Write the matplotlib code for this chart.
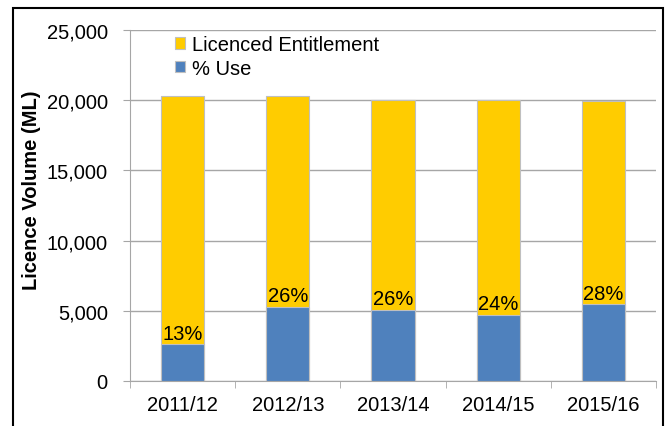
import numpy as np
import matplotlib
matplotlib.use('Agg')
from matplotlib import pyplot as plt
from matplotlib.patches import Rectangle

# data
years = ['2011/12', '2012/13', '2013/14', '2014/15', '2015/16']
entitlement = [20300, 20300, 20000, 20000, 19930]
use = [2600, 5300, 5070, 4700, 5480]
pct = ['13%', '26%', '26%', '24%', '28%']

plt.rcParams['font.family'] = ['Liberation Sans', 'DejaVu Sans']
fs = 14.5
yellow = '#FFCC00'
blue = '#4F81BD'
grid = '#A6A6A6'

fig = plt.figure(figsize=(6.69, 4.27), dpi=100)
ax = fig.add_axes([130/669, 1-382/427, 526/669, 351/427])

x = np.arange(len(years))
ax.bar(x, entitlement, width=0.41, color=yellow, edgecolor='#BFBFBF', linewidth=0.8,
       label='Licenced Entitlement', zorder=2)
ax.bar(x, use, width=0.41, color=blue, edgecolor='#BFBFBF', linewidth=0.8,
       label='% Use', zorder=3)

for xi, u, p in zip(x, use, pct):
    ax.annotate(p, (xi, u), xytext=(0, 4), textcoords='offset points',
                ha='center', va='baseline', fontsize=fs, zorder=4)

ax.set_xlim(-0.5, 4.5)
ax.set_ylim(0, 25000)
ax.set_yticks(np.arange(0, 25001, 5000))
ax.set_yticklabels(['{:,}'.format(v) for v in range(0, 25001, 5000)])
ax.yaxis.grid(True, color=grid, linewidth=1.0)
ax.set_axisbelow(True)

ax.set_xticks(x)
ax.set_xticklabels(years)
ax.set_xticks(np.arange(-0.5, 5, 1), minor=True)
ax.tick_params(axis='x', which='major', length=0, pad=10, labelsize=fs)
ax.tick_params(axis='x', which='minor', length=5, color=grid, direction='out')
ax.tick_params(axis='y', length=5, color=grid, pad=11, labelsize=fs)

for s in ['top', 'right']:
    ax.spines[s].set_visible(False)
ax.spines['left'].set_color(grid)
ax.spines['bottom'].set_color(grid)

ax.set_ylabel('Licence Volume (ML)', fontsize=fs, fontweight='bold')
ax.yaxis.set_label_coords(-0.17, 0.545)

ax.legend(loc='upper left', bbox_to_anchor=(0.0856, 0.985), frameon=False, fontsize=fs,
          handlelength=0.5, handleheight=0.5, handletextpad=0.35, labelspacing=0.22,
          borderpad=0, borderaxespad=0)

# outer frame around the chart
fig.patches.append(Rectangle((13/669, -0.1), 650/669, 1.1-9/427, transform=fig.transFigure,
                             fill=False, edgecolor='black', linewidth=1.5))

fig.savefig('out.png', dpi=100)
